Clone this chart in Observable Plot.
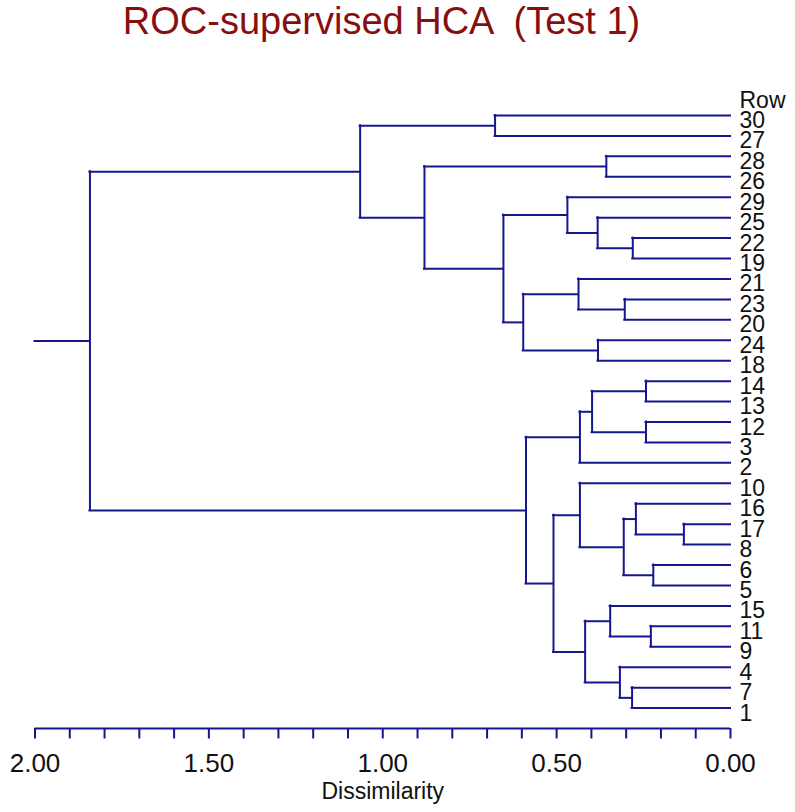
<!DOCTYPE html>
<html><head><meta charset="utf-8">
<script src="https://cdn.jsdelivr.net/npm/d3@7"></script>
<script src="https://cdn.jsdelivr.net/npm/@observablehq/plot@0.6"></script>
<style>
body{margin:0;background:#fff;font-family:"Liberation Sans",Arial,sans-serif;}
#title{height:50px;box-sizing:border-box;padding-top:2px;padding-right:32px;width:795px;text-align:center;font-size:38px;line-height:38px;color:#870f0f;white-space:pre;}
#chart svg{display:block;}
</style></head><body>
<div id="title">ROC-supervised HCA  (Test 1)</div>
<div id="chart"></div>
<script>
// Leaf order, top to bottom
const leaves = ["30","27","28","26","29","25","22","19","21","23","20","24","18",
  "14","13","12","3","2","10","16","17","8","6","5","15","11","9","4","7","1"];
const rowHeader = "Row";
// Merge steps: children are leaf labels or "m<k>" (k-th merge); heights = dissimilarity
const mergeA = ["17","6","11","14","12","16","22","7","23","m5","4","15","28","24","25","m3","m11","m15","10","21","29","m18","m17","m19","m20","30","m12","m25","m27"];
const mergeB = ["8","5","9","13","3","m0","19","1","20","m1","m7","m2","26","18","m6","m4","m10","2","m9","m8","m14","m16","m21","m13","m23","27","m24","m26","m22"];
const mergeHeight = [0.134,0.222,0.229,0.243,0.243,0.272,0.281,0.283,0.304,0.307,0.318,0.346,0.357,0.381,0.382,0.398,0.418,0.433,0.433,0.437,0.469,0.509,0.588,0.596,0.653,0.677,0.880,1.065,1.842];
const axisTicks = [0,0.1,0.2,0.3,0.4,0.5,0.6,0.7,0.8,0.9,1.0,1.1,1.2,1.3,1.4,1.5,1.6,1.7,1.8,1.9,2.0];
const tickLabels = [2, 1.5, 1, 0.5, 0];
const axisTitle = "Dissimilarity";

const lineColor = "#16168f";
const pos = new Map();
leaves.forEach((l, i) => pos.set(l, {x: 0, y: i}));
const verticals = [], horizontals = [];
mergeA.forEach((a, i) => {
  const b = mergeB[i], h = mergeHeight[i];
  const pa = pos.get(a), pb = pos.get(b);
  verticals.push({x: h, y1: pa.y, y2: pb.y});
  horizontals.push({y: pa.y, x1: pa.x, x2: h}, {y: pb.y, x1: pb.x, x2: h});
  pos.set("m" + i, {x: h, y: (pa.y + pb.y) / 2});
});
const root = pos.get("m" + (mergeA.length - 1));
horizontals.push({y: root.y, x1: root.x, x2: 2});
const axisRow = leaves.length; // axis sits one row below last leaf

const chart = Plot.plot({
  width: 795, height: 762,
  marginLeft: 34.5, marginRight: 65, marginTop: 0, marginBottom: 84,
  x: {domain: [2, 0], range: [34.5, 730], label: null},
  y: {domain: [-1, axisRow], range: [44.57, 678], axis: null},
  style: {fontFamily: "'Liberation Sans', Arial, sans-serif", background: "white", overflow: "visible"},
  marks: [
    Plot.ruleY(horizontals, {y: "y", x1: "x1", x2: "x2", stroke: lineColor, strokeWidth: 2, strokeLinecap: "square"}),
    Plot.ruleX(verticals, {x: "x", y1: "y1", y2: "y2", stroke: lineColor, strokeWidth: 2, strokeLinecap: "square"}),
    Plot.ruleY([axisRow], {x1: 2, x2: 0, stroke: lineColor, strokeWidth: 2}),
    Plot.axisX(axisTicks, {tickSize: 10.5, tickFormat: () => "", stroke: lineColor, strokeWidth: 2, label: null}),
    Plot.text(tickLabels, {x: d => d, y: axisRow, text: d => d.toFixed(2), dy: 43, lineAnchor: "bottom", fontSize: 26, fill: "#111"}),
    Plot.text([axisTitle], {x: 1, y: axisRow, text: d => d, dy: 70, lineAnchor: "bottom", fontSize: 23, fill: "#111"}),
    Plot.text(leaves, {x: 0, y: (d, i) => i, text: d => d, dx: 9, dy: 12.5, lineAnchor: "bottom", textAnchor: "start", fontSize: 23, fill: "#111"}),
    Plot.text([rowHeader], {x: 0, y: -1, text: d => d, dx: 9, dy: 12.5, lineAnchor: "bottom", textAnchor: "start", fontSize: 23, fill: "#111"})
  ]
});
document.getElementById("chart").appendChild(chart);
</script>
</body></html>
